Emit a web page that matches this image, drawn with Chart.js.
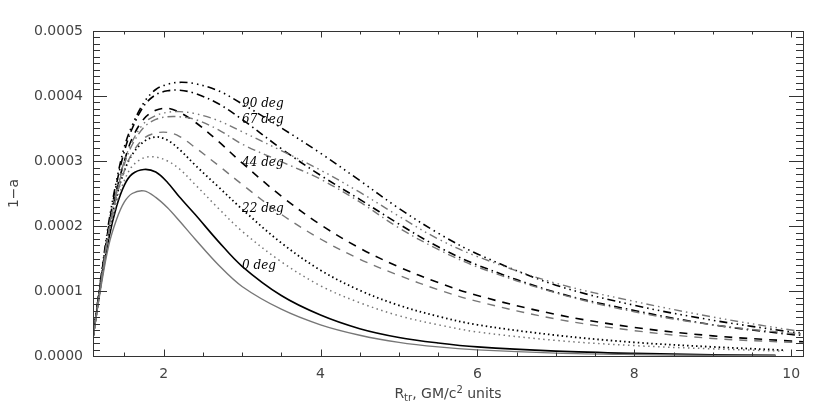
<!DOCTYPE html>
<html lang="en">
<head>
<meta charset="UTF-8" />
<title>1-a versus R_tr</title>
<script src="https://cdn.jsdelivr.net/npm/chart.js"></script>
<style>
  html, body { margin: 0; padding: 0; background: #fff; }
  canvas { display: block; }
</style>
</head>
<body>
<canvas id="chart" width="830" height="415"></canvas>
<script>
// radius grid, GM/c^2 units
const rBase = [1.1, 1.2, 1.3, 1.4, 1.5, 1.6, 1.75, 1.9, 2.05, 2.2, 2.4, 2.7, 3.0,
               3.5, 4.0, 4.5, 5.0, 5.5, 6.0, 7.0, 8.0, 9.0];
const rSolid = rBase.concat([9.8]);
const rDotted = rBase.concat([9.9]);
const rLong = rBase.concat([10.0, 10.15]);

// 1-a in units of 1e-4, black (b) and gray (g) curve for each inclination
const b0  = [0.28, 1.10, 1.80, 2.30, 2.63, 2.80, 2.87, 2.83, 2.67, 2.45, 2.18, 1.76, 1.38,
             0.93, 0.63, 0.42, 0.285, 0.20, 0.14, 0.075, 0.04, 0.02, 0.012];
const g0  = [0.28, 1.05, 1.70, 2.10, 2.37, 2.50, 2.54, 2.44, 2.28, 2.08, 1.80, 1.40, 1.07,
             0.72, 0.48, 0.32, 0.21, 0.14, 0.095, 0.045, 0.022, 0.01, 0.005];
const b22 = [0.28, 1.12, 1.90, 2.45, 2.85, 3.10, 3.30, 3.37, 3.32, 3.18, 2.94, 2.60, 2.26,
             1.74, 1.32, 1.01, 0.78, 0.61, 0.48, 0.32, 0.21, 0.14, 0.09];
const g22 = [0.28, 1.10, 1.85, 2.35, 2.70, 2.92, 3.05, 3.06, 3.00, 2.88, 2.64, 2.27, 1.92,
             1.45, 1.08, 0.82, 0.62, 0.48, 0.37, 0.24, 0.16, 0.11, 0.075];
const b44 = [0.28, 1.15, 1.95, 2.55, 3.00, 3.35, 3.65, 3.78, 3.81, 3.75, 3.60, 3.30, 2.97,
             2.46, 2.02, 1.66, 1.37, 1.13, 0.93, 0.64, 0.44, 0.31, 0.23, 0.22];
const g44 = [0.28, 1.10, 1.90, 2.45, 2.85, 3.12, 3.35, 3.43, 3.44, 3.38, 3.21, 2.93, 2.64,
             2.18, 1.80, 1.49, 1.24, 1.02, 0.84, 0.57, 0.39, 0.27, 0.21, 0.20];
const b67 = [0.28, 1.18, 2.00, 2.65, 3.15, 3.50, 3.85, 4.02, 4.08, 4.09, 4.04, 3.88, 3.64,
             3.19, 2.78, 2.41, 2.03, 1.68, 1.40, 0.98, 0.70, 0.48, 0.33, 0.32];
const g67 = [0.28, 1.10, 1.90, 2.50, 2.95, 3.25, 3.52, 3.64, 3.68, 3.68, 3.64, 3.48, 3.26,
             2.99, 2.72, 2.37, 1.97, 1.64, 1.37, 0.97, 0.68, 0.48, 0.35, 0.34];
const b90 = [0.28, 1.20, 2.05, 2.70, 3.22, 3.55, 3.90, 4.10, 4.18, 4.21, 4.19, 4.08, 3.88,
             3.51, 3.12, 2.70, 2.27, 1.89, 1.57, 1.09, 0.78, 0.55, 0.37, 0.35];
const g90 = [0.28, 1.12, 1.95, 2.55, 3.00, 3.30, 3.58, 3.70, 3.75, 3.76, 3.73, 3.62, 3.45,
             3.16, 2.86, 2.52, 2.15, 1.80, 1.53, 1.12, 0.84, 0.60, 0.40, 0.385];

const xTickVals = [2, 4, 6, 8, 10];
const yTickVals = [0, 0.0001, 0.0002, 0.0003, 0.0004, 0.0005];
const curveNames = ['90 deg', '67 deg', '44 deg', '22 deg', '0 deg'];
const labelR = 3.0;

const BLACK = '#000';
const GRAY = '#777';
const DOT_B = [1.5, 3];
const DOT_G = [1.5, 3.5];
const DASH = [8, 7];
const DASHDOT = [8, 4, 1.5, 4];
const DASH3DOT = [8, 4, 1.5, 4, 1.5, 4, 1.5, 4];

function pts(rs, vals) {
  return rs.map((r, i) => ({ x: r, y: vals[i] * 1e-4 }));
}
function line(rs, vals, color, dash, width) {
  return {
    data: pts(rs, vals),
    borderColor: color,
    borderDash: dash,
    borderWidth: width,
    pointRadius: 0,
    tension: 0.35,
    fill: false
  };
}

const datasets = [
  line(rSolid, g0, GRAY, [], 1.4),
  line(rDotted, g22, GRAY, DOT_G, 1.5),
  line(rLong, g44, GRAY, DASH, 1.4),
  line(rLong, g67, GRAY, DASHDOT, 1.4),
  line(rLong, g90, GRAY, DASH3DOT, 1.4),
  line(rSolid, b0, BLACK, [], 1.6),
  line(rDotted, b22, BLACK, DOT_B, 1.8),
  line(rLong, b44, BLACK, DASH, 1.6),
  line(rLong, b67, BLACK, DASHDOT, 1.6),
  line(rLong, b90, BLACK, DASH3DOT, 1.6)
];

// box and inward IDL style ticks on all four sides
const axesBox = {
  id: 'axesBox',
  afterDraw(chart) {
    const { ctx, chartArea: a, scales: { x, y } } = chart;
    ctx.save();
    ctx.strokeStyle = '#333';
    ctx.lineWidth = 1;
    ctx.strokeRect(a.left + 0.5, a.top + 0.5, a.right - a.left, a.bottom - a.top);
    ctx.beginPath();
    for (let i = 3; i <= 20; i++) {
      const v = i * 0.5;
      const px = Math.round(x.getPixelForValue(v)) + 0.5;
      const len = (i % 4 === 0) ? 6.5 : 3.5;
      ctx.moveTo(px, a.bottom); ctx.lineTo(px, a.bottom - len);
      ctx.moveTo(px, a.top); ctx.lineTo(px, a.top + len);
    }
    for (let i = 1; i < 50; i++) {
      const py = Math.round(y.getPixelForValue(i * 1e-5)) + 0.5;
      const len = (i % 10 === 0) ? 14 : 7;
      ctx.moveTo(a.left, py); ctx.lineTo(a.left + len, py);
      ctx.moveTo(a.right, py); ctx.lineTo(a.right - len, py);
    }
    ctx.stroke();
    ctx.restore();
  }
};

// "0 deg" ... "90 deg" next to the black curves
const curveLabels = {
  id: 'curveLabels',
  afterDatasetsDraw(chart) {
    const { ctx, scales: { x, y } } = chart;
    const k = rBase.indexOf(labelR);
    const blacks = [b90, b67, b44, b22, b0];
    ctx.save();
    ctx.font = 'italic 12px "DejaVu Serif"';
    ctx.fillStyle = '#000';
    ctx.textAlign = 'left';
    ctx.textBaseline = 'middle';
    curveNames.forEach((name, i) => {
      ctx.fillText(name, x.getPixelForValue(labelR), y.getPixelForValue(blacks[i][k] * 1e-4));
    });
    ctx.restore();
  }
};

// x title with subscript and superscript
const xTitle = {
  id: 'xTitle',
  afterDraw(chart) {
    const { ctx, chartArea: a } = chart;
    const parts = [
      { t: 'R', size: 14, dy: 0 },
      { t: 'tr', size: 10, dy: 3 },
      { t: ', GM/c', size: 14, dy: 0 },
      { t: '2', size: 10, dy: -5 },
      { t: ' units', size: 14, dy: 0 }
    ];
    ctx.save();
    ctx.fillStyle = '#444';
    ctx.textBaseline = 'alphabetic';
    let total = 0;
    parts.forEach(p => {
      ctx.font = p.size + 'px "DejaVu Sans"';
      p.w = ctx.measureText(p.t).width;
      total += p.w;
    });
    let cx = (a.left + a.right) / 2 - total / 2;
    const base = 398;
    parts.forEach(p => {
      ctx.font = p.size + 'px "DejaVu Sans"';
      ctx.fillText(p.t, cx, base + p.dy);
      cx += p.w;
    });
    ctx.restore();
  }
};

new Chart(document.getElementById('chart'), {
  type: 'line',
  data: { datasets },
  plugins: [axesBox, curveLabels, xTitle],
  options: {
    responsive: false,
    animation: false,
    layout: { padding: { top: 31, right: 27, left: 0, bottom: 0 } },
    plugins: { legend: { display: false }, tooltip: { enabled: false } },
    scales: {
      x: {
        type: 'linear',
        min: 1.1,
        max: 10.15,
        grid: { display: false, drawTicks: false },
        border: { display: false },
        afterBuildTicks: s => { s.ticks = xTickVals.map(v => ({ value: v })); },
        afterFit: s => { s.height = 59; },
        ticks: {
          padding: 10,
          color: '#444',
          font: { family: 'DejaVu Sans', size: 14 },
          maxRotation: 0,
          callback: v => String(v)
        }
      },
      y: {
        min: 0,
        max: 0.0005,
        grid: { display: false, drawTicks: false },
        border: { display: false },
        afterBuildTicks: s => { s.ticks = yTickVals.map(v => ({ value: v })); },
        afterFit: s => { s.width = 93; },
        ticks: {
          padding: 10,
          color: '#444',
          font: { family: 'DejaVu Sans', size: 14 },
          callback: v => Number(v).toFixed(4)
        },
        title: {
          display: true,
          text: '1\u2212a',
          color: '#444',
          font: { family: 'DejaVu Sans', size: 14 },
          padding: { top: 6, bottom: 4 }
        }
      }
    }
  }
});
</script>
</body>
</html>
